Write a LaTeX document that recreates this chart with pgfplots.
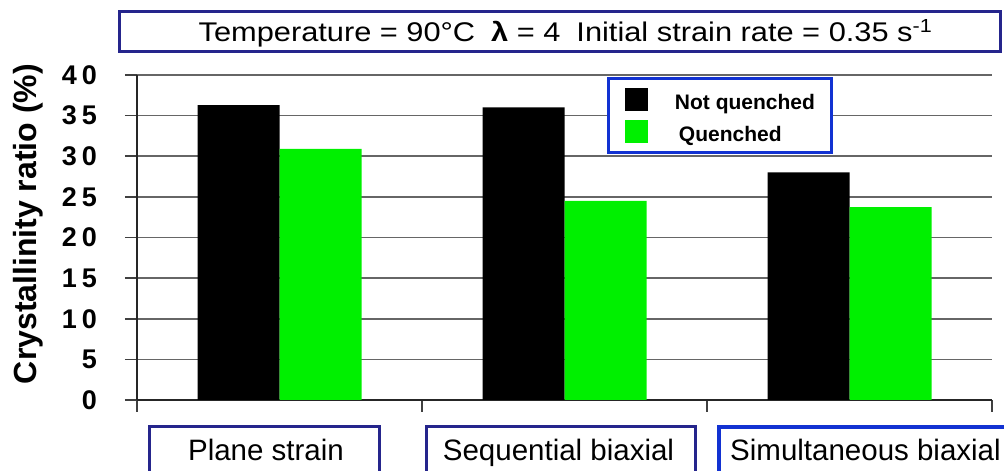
\documentclass[border=0pt]{standalone}
\usepackage{pgfplots}
\pgfplotsset{compat=1.18}
\usepackage{fontspec}
\setmainfont{Liberation Sans}
\definecolor{navyA}{HTML}{25258C}
\definecolor{brightblue}{HTML}{1232D2}
\definecolor{qgreen}{HTML}{00F000}
\newcommand{\tl}[1]{\mbox{\fontsize{27bp}{30bp}\selectfont\bfseries #1}}
\begin{document}
\begin{tikzpicture}
\path[use as bounding box] (0,0) rectangle (1004bp,471bp);
\begin{axis}[
  at={(137bp,71bp)}, anchor=south west,
  scale only axis, width=855bp, height=325bp,
  xmin=0, xmax=3, ymin=0, ymax=40,
  axis x line*=bottom, axis y line*=left,
  axis line style={black!85, line width=1.6bp},
  ybar=0pt, bar width=82bp,
  xtick={0,1,2,3}, xticklabels={},
  ytick={0,5,10,15,20,25,30,35,40},
  yticklabels={\tl{0},\tl{5},\tl{1\hspace{5bp}0},\tl{1\hspace{5bp}5},\tl{2\hspace{5bp}0},\tl{2\hspace{5bp}5},\tl{3\hspace{5bp}0},\tl{3\hspace{5bp}5},\tl{4\hspace{5bp}0}},
  tick align=outside, major tick length=12bp,
  tick style={black!75, line width=1.6bp},
  ymajorgrids, grid style={black!60, line width=1.6bp},
  yticklabel style={anchor=east, inner sep=0pt, xshift=-28bp},
  ylabel={Crystallinity ratio (\%)},
  ylabel style={font=\fontsize{32bp}{36bp}\selectfont\bfseries, at={(axis description cs:-0.118,0.5415)}, anchor=base},
  legend style={at={(rel axis cs:0.5497,0.9938)}, anchor=north west, draw=brightblue, line width=3bp, fill=white, inner xsep=16.5bp, inner ysep=9bp, row sep=9bp, font=\fontsize{21bp}{25bp}\selectfont\bfseries, nodes={inner sep=0pt}},
  legend cell align=left,
  legend image code/.code={\path[#1] (0bp,-8bp) rectangle (23bp,15bp);},
]
\addplot[fill=black, draw=none] coordinates {(0.5,36.3) (1.5,36.0) (2.5,28.0)};
\addplot[fill=qgreen, draw=none] coordinates {(0.5,30.9) (1.5,24.5) (2.5,23.75)};
\legend{\hspace{27bp}Not quenched, \hspace{31bp}Quenched}
\end{axis}
% title box
\draw[navyA, line width=3bp] (119.5bp,419.5bp) rectangle (1000.5bp,459.5bp);
\node[anchor=base, inner sep=0pt, font=\fontsize{27bp}{30bp}\selectfont] at (565.5bp,429bp)
  {\scalebox{1.14}[1]{Temperature = 90°C\hspace{14bp}{\bfseries λ} = 4\hspace{14bp}Initial strain rate = 0.35 s\textsuperscript{-1}}};
% category boxes
\draw[navyA, line width=3bp] (149.5bp,-10bp) -- (149.5bp,44.5bp) -- (379.5bp,44.5bp) -- (379.5bp,-10bp);
\draw[navyA, line width=3bp] (426.5bp,-10bp) -- (426.5bp,44.5bp) -- (695.5bp,44.5bp) -- (695.5bp,-10bp);
\draw[brightblue, line width=4bp] (719bp,-10bp) -- (719bp,44bp) -- (1030bp,44bp);
\node[anchor=base, inner sep=0pt, font=\fontsize{29.5bp}{33bp}\selectfont] at (266bp,11bp) {Plane strain};
\node[anchor=base, inner sep=0pt, font=\fontsize{29.5bp}{33bp}\selectfont] at (558.5bp,11bp) {Sequential biaxial};
\node[anchor=base west, inner sep=0pt, font=\fontsize{29.5bp}{33bp}\selectfont] at (730bp,11bp) {Simultaneous biaxial};
\end{tikzpicture}
\end{document}
